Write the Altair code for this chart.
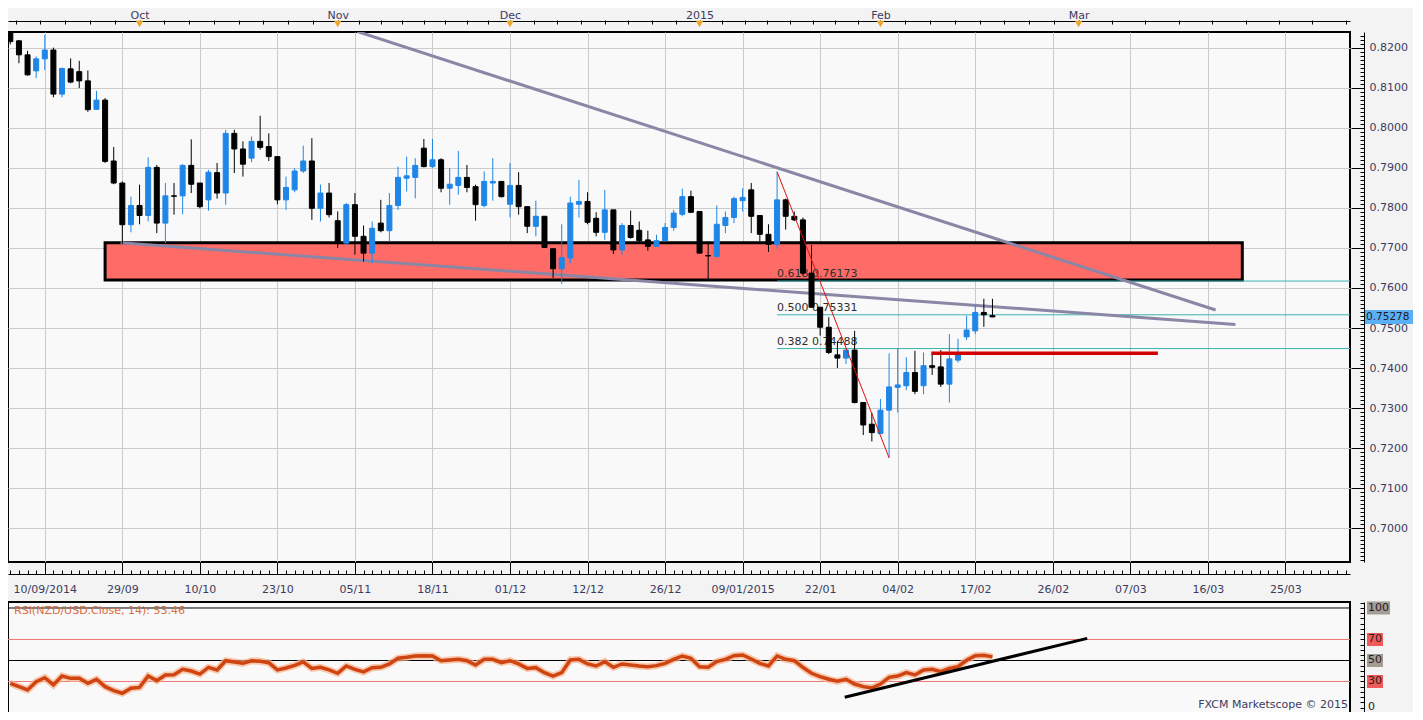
import json
import numpy as np
import pandas as pd
import altair as alt

# ---------------- data ----------------
# candle index: -4 .. 110 (one step per trading day; gridline every 9 steps)
idx = list(range(-4, 111))

opens = [
    0.8238, 0.8217, 0.8182, 0.8142, 0.8172, 0.8194, 0.8084, 0.8147, 0.8140, 0.8117,
    0.8046, 0.8069, 0.7917, 0.7862, 0.7758, 0.7806, 0.7781, 0.7901, 0.7762, 0.7830,
    0.7830, 0.7906, 0.7862, 0.7820, 0.7888, 0.7837, 0.7986, 0.7947, 0.7924, 0.7966,
    0.7953, 0.7928, 0.7820, 0.7845, 0.7892, 0.7917, 0.7799, 0.7837, 0.7768, 0.7712,
    0.7808, 0.7729, 0.7687, 0.7762, 0.7743, 0.7806, 0.7874, 0.7876, 0.7949, 0.7903,
    0.7920, 0.7849, 0.7856, 0.7876, 0.7853, 0.7806, 0.7862, 0.7866, 0.7809, 0.7856,
    0.7803, 0.7754, 0.7779, 0.7698, 0.7648, 0.7675, 0.7809, 0.7816, 0.7774, 0.7739,
    0.7795, 0.7695, 0.7756, 0.7744, 0.7720, 0.7704, 0.7718, 0.7751, 0.7784, 0.7828,
    0.7791, 0.7681, 0.7679, 0.7756, 0.7776, 0.7818, 0.7845, 0.7781, 0.7734, 0.7709,
    0.7820, 0.7779, 0.7770, 0.7637, 0.7552, 0.7502, 0.7433, 0.7425, 0.7445, 0.7314,
    0.7260, 0.7237, 0.7295, 0.7352, 0.7356, 0.7389, 0.7356, 0.7406, 0.7403, 0.7360,
    0.7420, 0.7478, 0.7493, 0.7539, 0.7531,
]
highs = [
    0.8245, 0.8219, 0.8192, 0.8178, 0.8232, 0.8200, 0.8150, 0.8173, 0.8167, 0.8143,
    0.8092, 0.8074, 0.7952, 0.7866, 0.7828, 0.7858, 0.7926, 0.7907, 0.7862, 0.7862,
    0.7909, 0.7971, 0.7862, 0.7895, 0.7912, 0.7995, 0.7995, 0.7966, 0.7978, 0.8030,
    0.7986, 0.7928, 0.7878, 0.7899, 0.7955, 0.7974, 0.7858, 0.7862, 0.7791, 0.7812,
    0.7837, 0.7756, 0.7766, 0.7820, 0.7837, 0.7903, 0.7928, 0.7924, 0.7972, 0.7972,
    0.7924, 0.7899, 0.7942, 0.7907, 0.7858, 0.7891, 0.7924, 0.7866, 0.7912, 0.7889,
    0.7803, 0.7818, 0.7779, 0.7698, 0.7759, 0.7828, 0.7870, 0.7839, 0.7789, 0.7845,
    0.7795, 0.7762, 0.7793, 0.7766, 0.7743, 0.7733, 0.7762, 0.7795, 0.7848, 0.7843,
    0.7791, 0.7716, 0.7806, 0.7791, 0.7828, 0.7849, 0.7862, 0.7781, 0.7759, 0.7890,
    0.7823, 0.7791, 0.7776, 0.7707, 0.7552, 0.7527, 0.7467, 0.7448, 0.7493, 0.7314,
    0.7289, 0.7323, 0.7437, 0.7450, 0.7427, 0.7443, 0.7439, 0.7435, 0.7445, 0.7485,
    0.7473, 0.7531, 0.7556, 0.7573, 0.7573,
]
lows = [
    0.8208, 0.8161, 0.8130, 0.8124, 0.8144, 0.8076, 0.8076, 0.8111, 0.8099, 0.8040,
    0.8045, 0.7912, 0.7859, 0.7710, 0.7739, 0.7759, 0.7766, 0.7737, 0.7712, 0.7783,
    0.7784, 0.7837, 0.7799, 0.7793, 0.7823, 0.7808, 0.7887, 0.7878, 0.7914, 0.7945,
    0.7917, 0.7809, 0.7795, 0.7839, 0.7887, 0.7770, 0.7766, 0.7776, 0.7700, 0.7708,
    0.7683, 0.7666, 0.7662, 0.7739, 0.7716, 0.7795, 0.7841, 0.7824, 0.7901, 0.7899,
    0.7839, 0.7808, 0.7833, 0.7839, 0.7768, 0.7801, 0.7818, 0.7826, 0.7776, 0.7783,
    0.7737, 0.7729, 0.7700, 0.7625, 0.7610, 0.7662, 0.7776, 0.7759, 0.7729, 0.7720,
    0.7685, 0.7683, 0.7723, 0.7712, 0.7693, 0.7704, 0.7716, 0.7743, 0.7779, 0.7787,
    0.7687, 0.7621, 0.7676, 0.7737, 0.7762, 0.7791, 0.7737, 0.7716, 0.7690, 0.7698,
    0.7746, 0.7767, 0.7633, 0.7550, 0.7481, 0.7435, 0.7400, 0.7410, 0.7312, 0.7233,
    0.7217, 0.7235, 0.7176, 0.7289, 0.7345, 0.7335, 0.7335, 0.7383, 0.7353, 0.7314,
    0.7414, 0.7470, 0.7485, 0.7503, 0.7527,
]
closes = [
    0.8215, 0.8182, 0.8132, 0.8172, 0.8194, 0.8084, 0.8148, 0.8114, 0.8117, 0.8045,
    0.8069, 0.7916, 0.7862, 0.7758, 0.7806, 0.7781, 0.7901, 0.7762, 0.7830, 0.7829,
    0.7906, 0.7859, 0.7803, 0.7889, 0.7837, 0.7986, 0.7947, 0.7909, 0.7966, 0.7951,
    0.7928, 0.7820, 0.7851, 0.7892, 0.7917, 0.7799, 0.7837, 0.7783, 0.7712, 0.7808,
    0.7729, 0.7687, 0.7749, 0.7743, 0.7806, 0.7876, 0.7880, 0.7906, 0.7903, 0.7920,
    0.7849, 0.7859, 0.7876, 0.7851, 0.7808, 0.7866, 0.7866, 0.7828, 0.7856, 0.7803,
    0.7754, 0.7779, 0.7701, 0.7648, 0.7676, 0.7812, 0.7816, 0.7764, 0.7739, 0.7795,
    0.7695, 0.7756, 0.7726, 0.7718, 0.7704, 0.7718, 0.7751, 0.7787, 0.7828, 0.7789,
    0.7687, 0.7680, 0.7759, 0.7776, 0.7823, 0.7826, 0.7779, 0.7734, 0.7709, 0.7820,
    0.7779, 0.7770, 0.7637, 0.7552, 0.7502, 0.7439, 0.7425, 0.7445, 0.7314, 0.7258,
    0.7239, 0.7295, 0.7353, 0.7358, 0.7389, 0.7342, 0.7406, 0.7402, 0.7360, 0.7423,
    0.7433, 0.7495, 0.7539, 0.7533, 0.75278,
]
rsi = [
    28.3, 25.1, 21.9, 29.8, 33.6, 26.7, 35.2, 33.0, 33.0, 28.3,
    32.1, 25.1, 21.3, 18.8, 23.5, 24.4, 35.2, 30.8, 36.2, 36.5,
    41.6, 40.0, 37.1, 43.5, 41.0, 49.8, 48.6, 47.3, 49.8, 49.2,
    47.9, 41.0, 42.9, 45.4, 48.6, 42.5, 43.5, 41.0, 37.8, 44.8,
    41.6, 39.1, 43.2, 43.5, 46.7, 52.1, 53.0, 54.3, 54.6, 54.3,
    49.8, 50.5, 51.1, 49.8, 45.7, 51.1, 51.1, 47.9, 49.8, 46.7,
    42.5, 43.2, 38.4, 35.2, 38.4, 50.5, 51.1, 46.7, 44.8, 48.9,
    43.5, 46.7, 45.7, 44.8, 44.1, 45.1, 47.3, 51.1, 54.3, 52.1,
    44.1, 43.5, 48.9, 51.1, 54.6, 55.2, 51.4, 47.3, 44.8, 54.3,
    51.1, 49.8, 43.5, 37.8, 34.6, 32.1, 30.2, 32.1, 27.6, 25.1,
    23.8, 27.6, 34.0, 35.2, 38.4, 36.2, 41.0, 41.6, 39.4, 42.5,
    44.1, 50.2, 54.6, 54.9, 53.46,
]
for arr in (opens, highs, lows, closes, rsi):
    assert len(arr) == len(idx)

x_labels = ["10/09/2014", "29/09", "10/10", "23/10", "05/11", "18/11", "01/12",
            "12/12", "26/12", "09/01/2015", "22/01", "04/02", "17/02", "26/02",
            "07/03", "16/03", "25/03"]
x_label_step = 9
months = ["Oct", "Nov", "Dec", "2015", "Feb", "Mar"]
month_pos = [11, 34, 54, 76, 97, 120]

zone_x = [7.0, 139.0]
zone_y = [0.7713, 0.7620]
upper_trend_x = [36.3, 135.9]
upper_trend_y = [0.8240, 0.7545]
lower_trend_x = [8.8, 138.2]
lower_trend_y = [0.7713, 0.7509]
swing_x = [85, 98]
swing_y = [0.78901, 0.71761]
fib_ratio = [0.618, 0.500, 0.382]
fib_level = [0.76173, 0.75331, 0.74488]
support_x = [102.9, 129.2]
support_y = [0.7437]
last_close = closes[-1]
rsi_trend_x = [92.85, 121.0]
rsi_trend_y = [15.0, 71.1]
rsi_levels = [100, 70, 50, 30, 0]
rsi_name = "RSI(NZD/USD.Close, 14)"
footer = "FXCM Marketscope © 2015"

# ---------------- layout / style ----------------
W = 1342
H_MAIN = 530
H_RSI = 111
X_DOMAIN = [-4.27, 151.5]
Y_DOMAIN = [0.6916, 0.8239]
RSI_DOMAIN = [0, 105.7]
FONT = "DejaVu Sans"
LBL = "#3B3B5E"
GRID = "#CBCBCB"
UP = "#1F86E8"
DOWN = "#000000"

xgrid = [x_label_step * k for k in range(len(x_labels))]
ygrid = [round(0.70 + 0.01 * k, 2) for k in range(13)]
yminor = [round(0.692 + 0.001 * k, 3) for k in range(132)]

# top ruler: each month split in 8
top_ticks = []
for a, b in zip(month_pos[:-1], month_pos[1:]):
    st = (b - a) / 8
    top_ticks += [a + st * k for k in range(8)]
top_ticks.append(month_pos[-1])
st0 = (month_pos[1] - month_pos[0]) / 8
k = 1
while month_pos[0] - k * st0 >= X_DOMAIN[0]:
    top_ticks.append(month_pos[0] - k * st0)
    k += 1
k = 1
while month_pos[-1] + k * 3.875 <= X_DOMAIN[1]:
    top_ticks.append(month_pos[-1] + k * 3.875)
    k += 1
top_ticks = sorted(round(t, 3) for t in top_ticks)

xs = alt.Scale(domain=X_DOMAIN, nice=False, zero=False, padding=0)
ys = alt.Scale(domain=Y_DOMAIN, nice=False, zero=False)

axA = alt.Axis(orient="bottom", values=xgrid,
               labelExpr=f"{json.dumps(x_labels)}[round(datum.value/{x_label_step})]",
               tickSize=12, tickColor="black", domain=False, grid=True, gridColor=GRID,
               labelPadding=9, labelFont=FONT, labelFontSize=11, labelColor=LBL,
               labelFlush=False, labelOverlap=False, title=None)
axB = alt.Axis(orient="bottom", offset=8, values=list(range(-4, 152)), tickSize=4,
               tickColor="black", labels=False, domain=False, grid=False, title=None)
axC = alt.Axis(orient="bottom", offset=12, values=[0], domain=True, domainColor="black",
               ticks=False, labels=False, grid=False, title=None)
axT1 = alt.Axis(orient="top", offset=8, values=top_ticks, tickSize=4, tickColor="black",
                labels=False, domain=False, grid=False, title=None)
axT2 = alt.Axis(orient="top", offset=11, values=month_pos,
                labelExpr=f"{json.dumps(months)}[indexof({json.dumps(month_pos)}, datum.value)]",
                ticks=False, domain=True, domainColor="black", labelPadding=1,
                labelFont=FONT, labelFontSize=11, labelColor=LBL, labelFlush=False,
                grid=False, title=None)
ayM = alt.Axis(orient="right", offset=1, values=ygrid, tickSize=13, tickColor="black",
               labels=False, domain=False, grid=True, gridColor=GRID, title=None,
               minExtent=0)
ayN = alt.Axis(orient="right", offset=10, values=yminor, tickSize=4, tickColor="black",
               labels=False, domain=False, grid=False, title=None, minExtent=0)
ayL = alt.Axis(orient="right", offset=14, values=ygrid, ticks=False, domain=True,
               domainColor="black", labelPadding=5, format=".4f", labelFont=FONT,
               labelFontSize=11, labelColor=LBL, grid=False, title=None, minExtent=0)

candles = pd.DataFrame({"i": idx, "open": opens, "high": highs, "low": lows, "close": closes})
candles["dir"] = np.where(candles["close"] >= candles["open"], "up", "down")
dir_scale = alt.Scale(domain=["up", "down"], range=[UP, DOWN])

zone = alt.Chart(pd.DataFrame({"x1": [zone_x[0]], "x2": [zone_x[1]],
                               "top": [zone_y[0]], "bottom": [zone_y[1]]})).mark_rect(
    fill="#FF6B66", stroke="black", strokeWidth=3).encode(
    x=alt.X("x1:Q", scale=xs, axis=axA), x2="x2:Q",
    y=alt.Y("top:Q", scale=ys, axis=ayM), y2="bottom:Q")

fib_df = pd.DataFrame({"ratio": fib_ratio, "level": fib_level})
fib_df["x"] = swing_x[0]
fib_df["x2"] = X_DOMAIN[1]
fib_df["label"] = [f"{r:.3f} {l:.5f}" for r, l in zip(fib_ratio, fib_level)]

fib_rules = alt.Chart(fib_df).mark_rule(color="#39B3AE", strokeWidth=1).encode(
    x=alt.X("x:Q", scale=xs, axis=axB), x2="x2:Q",
    y=alt.Y("level:Q", scale=ys, axis=ayN))
fib_text = alt.Chart(fib_df).mark_text(align="left", baseline="bottom", dy=-2, font=FONT,
                                       fontSize=11, color="#2E2E2E").encode(
    x=alt.X("x:Q", scale=xs, axis=axC),
    y=alt.Y("level:Q", scale=ys, axis=ayL), text="label:N")

trend_df = pd.DataFrame({
    "line": ["upper"] * 2 + ["lower"] * 2,
    "x": upper_trend_x + lower_trend_x,
    "y": upper_trend_y + lower_trend_y,
})
trend = alt.Chart(trend_df).mark_line(color="#8A86A6", strokeWidth=3, clip=True).encode(
    x=alt.X("x:Q", scale=xs, axis=axT1), y=alt.Y("y:Q", scale=ys, axis=None),
    detail="line:N")

wicks = alt.Chart(candles).mark_rule(strokeWidth=1, clip=True).encode(
    x=alt.X("i:Q", scale=xs, axis=None),
    y=alt.Y("low:Q", scale=ys, axis=None), y2="high:Q",
    color=alt.Color("dir:N", scale=dir_scale, legend=None))
bodies = alt.Chart(candles).mark_bar(size=5, strokeWidth=1, clip=True).encode(
    x=alt.X("i:Q", scale=xs, axis=None),
    y=alt.Y("open:Q", scale=ys, axis=None), y2="close:Q",
    color=alt.Color("dir:N", scale=dir_scale, legend=None),
    stroke=alt.Stroke("dir:N", scale=dir_scale, legend=None))

swing = alt.Chart(pd.DataFrame({"x": swing_x, "y": swing_y})).mark_line(
    color="#E01010", strokeWidth=1).encode(
    x=alt.X("x:Q", scale=xs, axis=axT2), y=alt.Y("y:Q", scale=ys, axis=None))

support = alt.Chart(pd.DataFrame({"x": [support_x[0]], "x2": [support_x[1]],
                                  "y": support_y})).mark_rule(
    color="#D00000", strokeWidth=3.5).encode(
    x=alt.X("x:Q", scale=xs, axis=None), x2="x2:Q",
    y=alt.Y("y:Q", scale=ys, axis=None))

triangles = alt.Chart(pd.DataFrame({"pos": month_pos})).mark_point(
    shape="triangle-down", filled=True, color="#F0A428", size=55, opacity=1).encode(
    x=alt.X("pos:Q", scale=xs, axis=None), y=alt.value(-8))

price_df = pd.DataFrame({"y": [last_close], "label": [f"{last_close:.5f}"]})
price_box = alt.Chart(price_df).mark_rule(color="#5AB0F2", strokeWidth=14,
                                          strokeCap="butt").encode(
    x=alt.value(W + 15), x2=alt.value(W + 63), y=alt.Y("y:Q", scale=ys, axis=None))
price_text = alt.Chart(price_df).mark_text(
    align="left", baseline="middle", font=FONT, fontSize=10.5, color="#1A1A2E").encode(
    x=alt.value(W + 16), y=alt.Y("y:Q", scale=ys, axis=None), text="label:N")

main = alt.layer(zone, fib_rules, fib_text, trend, wicks, bodies, swing, support,
                 triangles, price_box, price_text).resolve_axis(
    x="independent", y="independent").properties(width=W, height=H_MAIN)

# ---------------- RSI panel ----------------
rs_x = alt.Scale(domain=X_DOMAIN, nice=False, zero=False, padding=0)
rs_y = alt.Scale(domain=RSI_DOMAIN, nice=False, zero=False)
axR = alt.Axis(values=xgrid, grid=True, gridColor=GRID, labels=False, ticks=False,
               domain=False, title=None)
ayRN = alt.Axis(orient="right", offset=10, values=list(range(0, 106, 5)), tickSize=4,
                tickColor="black", labels=False, domain=False, grid=False, title=None,
                minExtent=0)
ayRL = alt.Axis(orient="right", offset=14, values=[0], ticks=False, labels=False,
                domain=True, domainColor="black", grid=False, title=None, minExtent=0)

rsi_df = pd.DataFrame({"i": idx, "rsi": rsi})
lvl_names = [str(v) for v in rsi_levels]
lvl_df = pd.DataFrame({"v": rsi_levels, "label": lvl_names})
GRAYBOX = "#A39D96"
REDBOX = "#F05A5A"
box_color = alt.Color("label:N", scale=alt.Scale(
    domain=lvl_names, range=[GRAYBOX, REDBOX, GRAYBOX, REDBOX, GRAYBOX]), legend=None)
upper_lvls = lvl_df[lvl_df["v"] > 0]
zero_lvl = lvl_df[lvl_df["v"] == 0]

red_rules = alt.Chart(lvl_df[lvl_df["v"].isin([70, 30])]).mark_rule(
    color="#F07878", strokeWidth=1).encode(y=alt.Y("v:Q", scale=rs_y, axis=ayRN))
black_rules = alt.Chart(lvl_df[lvl_df["v"].isin([50, 100])]).mark_rule(
    color="black", strokeWidth=1).encode(y=alt.Y("v:Q", scale=rs_y, axis=ayRL))
halo = alt.Chart(rsi_df).mark_line(color="#F6B38F", strokeWidth=7, opacity=0.7).encode(
    x=alt.X("i:Q", scale=rs_x, axis=axR), y=alt.Y("rsi:Q", scale=rs_y, axis=None))
rsi_line = alt.Chart(rsi_df).mark_line(color="#CF4410", strokeWidth=3.5).encode(
    x=alt.X("i:Q", scale=rs_x, axis=None), y=alt.Y("rsi:Q", scale=rs_y, axis=None))
rsi_trend = alt.Chart(pd.DataFrame({"x": rsi_trend_x, "y": rsi_trend_y})).mark_line(
    color="black", strokeWidth=3).encode(
    x=alt.X("x:Q", scale=rs_x, axis=None), y=alt.Y("y:Q", scale=rs_y, axis=None))
box3 = alt.Chart(lvl_df[lvl_df["label"].str.len() == 3]).mark_rule(
    strokeWidth=13, strokeCap="butt").encode(
    x=alt.value(W + 17), x2=alt.value(W + 40),
    y=alt.Y("v:Q", scale=rs_y, axis=None), color=box_color)
box2 = alt.Chart(lvl_df[lvl_df["label"].str.len() == 2]).mark_rule(
    strokeWidth=13, strokeCap="butt").encode(
    x=alt.value(W + 17), x2=alt.value(W + 33),
    y=alt.Y("v:Q", scale=rs_y, axis=None), color=box_color)
lvl_text = alt.Chart(upper_lvls).mark_text(align="left", baseline="middle", font=FONT,
                                           fontSize=11, color="#2B2020").encode(
    x=alt.value(W + 18), y=alt.Y("v:Q", scale=rs_y, axis=None), text="label:N")
zero_text = alt.Chart(zero_lvl).mark_text(align="left", baseline="bottom", dy=-1, font=FONT,
                                          fontSize=11, color="#2B2020").encode(
    x=alt.value(W + 18), y=alt.Y("v:Q", scale=rs_y, axis=None), text="label:N")
rsi_title = alt.Chart(pd.DataFrame({"t": [f"{rsi_name}: {rsi[-1]:.2f}"]})).mark_text(
    align="left", baseline="middle", font=FONT, fontSize=11, color="#DB6B3C").encode(
    x=alt.value(6), y=alt.value(9), text="t:N")
footer_text = alt.Chart(pd.DataFrame({"t": [footer]})).mark_text(
    align="right", baseline="alphabetic", font=FONT, fontSize=11, color=LBL).encode(
    x=alt.value(W - 2), y=alt.value(H_RSI - 5), text="t:N")

rsi_chart = alt.layer(red_rules, black_rules, halo, rsi_line, rsi_trend, box3, box2,
                      lvl_text, zero_text, rsi_title, footer_text).resolve_axis(
    y="independent").properties(width=W, height=H_RSI)

chart = alt.vconcat(main, rsi_chart, spacing=5).resolve_scale(
    x="independent", color="independent").properties(
    padding={"left": -13, "top": 0, "right": -8, "bottom": -3},
    background="#F3F3F3").configure_view(
    fill="#F9F9F9", stroke="black", strokeWidth=2)

chart.save("out.html", embed_options={"renderer": "svg", "actions": False})
